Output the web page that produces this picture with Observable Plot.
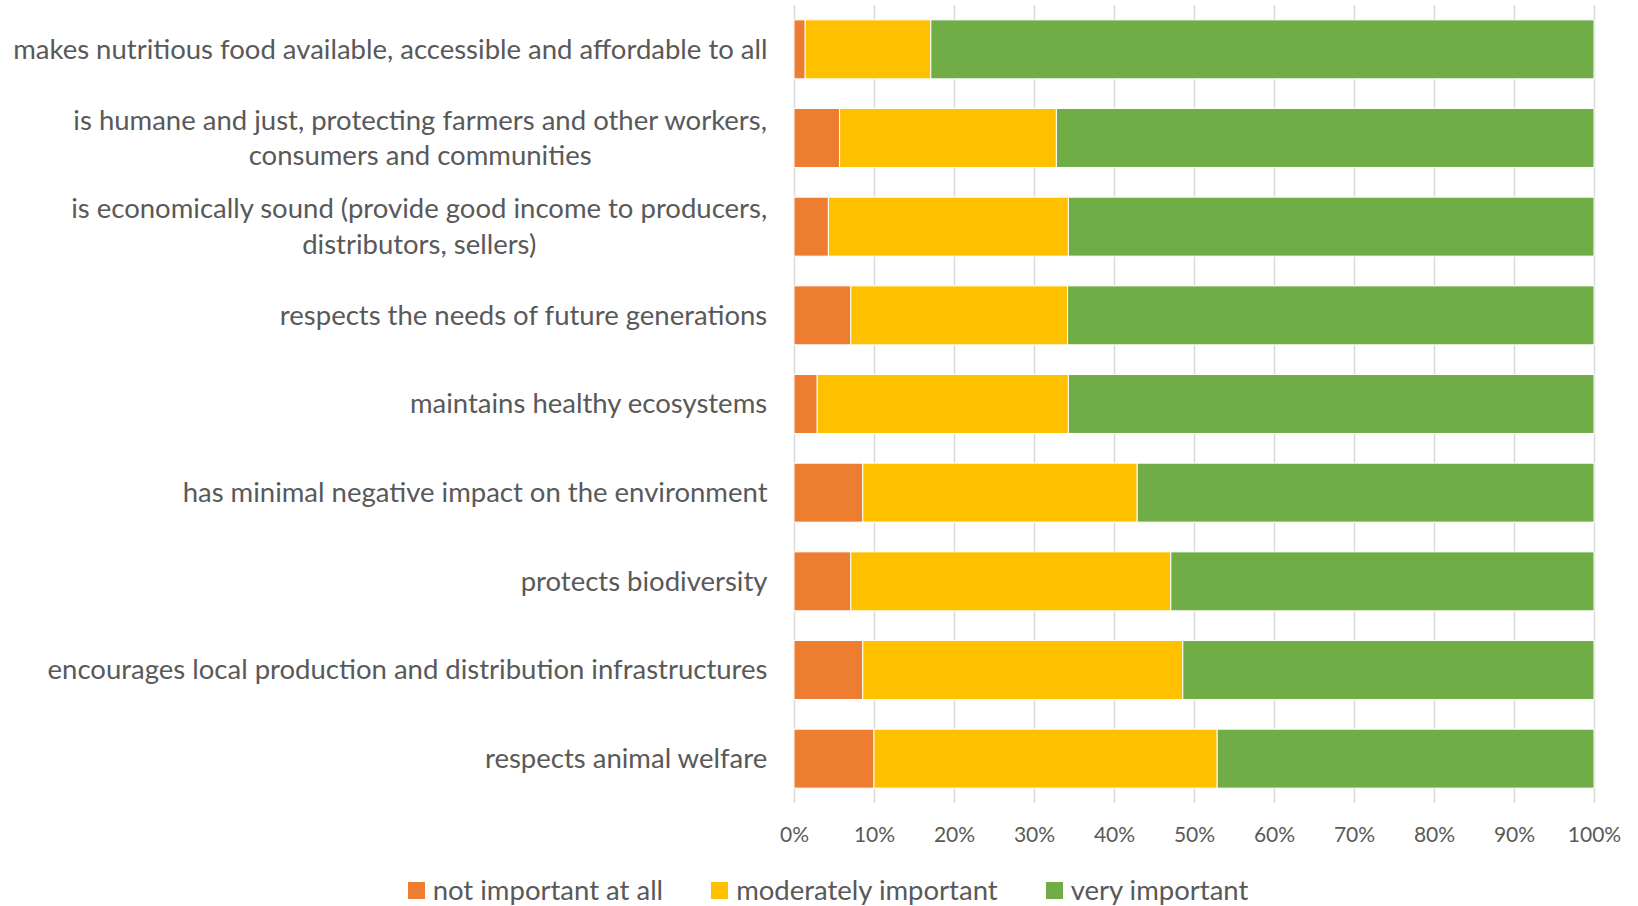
<!DOCTYPE html>
<html>
<head>
<meta charset="utf-8">
<script src="https://cdn.jsdelivr.net/npm/d3@7"></script>
<script src="https://cdn.jsdelivr.net/npm/@observablehq/plot@0.6"></script>
<style>
  body { margin: 0; background: #ffffff; font-family: Lato, "Open Sans", sans-serif; }
  #wrap { position: relative; width: 1638px; height: 906px; }
  #legend { position: absolute; left: 0; top: 875px; width: 1638px; display: flex; justify-content: center;
            padding-left: 18px; box-sizing: border-box; font-size: 27.5px; color: #595959; line-height: 30px; }
  .item { display: flex; align-items: center; margin: 0 24px; }
  .sw { width: 17px; height: 17px; margin-right: 8px; }
</style>
</head>
<body>
<div id="wrap">
  <div id="chart"></div>
  <div id="legend"></div>
</div>
<script>
const categories = [
  "makes nutritious food available, accessible and affordable to all",
  "is humane and just, protecting farmers and other workers,\nconsumers and communities",
  "is economically sound (provide good income to producers,\ndistributors, sellers)",
  "respects the needs of future generations",
  "maintains healthy ecosystems",
  "has minimal negative impact on the environment",
  "protects biodiversity",
  "encourages local production and distribution infrastructures",
  "respects animal welfare"
];
const seriesNames = ["not important at all", "moderately important", "very important"];
const seriesColors = ["#ED7D31", "#FFC000", "#70AD47"];
const notImportant = [1.4, 5.7, 4.3, 7.1, 2.9, 8.6, 7.1, 8.6, 10.0];
const moderatelyImportant = [15.7, 27.1, 30.0, 27.1, 31.4, 34.3, 40.0, 40.0, 42.9];
const veryImportant = [82.9, 67.2, 65.7, 65.8, 65.7, 57.1, 52.9, 51.4, 47.1];
const xTicks = [0, 10, 20, 30, 40, 50, 60, 70, 80, 90, 100];

const seriesValues = [notImportant, moderatelyImportant, veryImportant];
const rows = [];
categories.forEach((c, i) => {
  seriesNames.forEach((s, j) => rows.push({category: c, series: s, value: seriesValues[j][i]}));
});

const textColor = "#595959";
const labelFont = 27.5;
const ctx = document.createElement("canvas").getContext("2d");
ctx.font = `${labelFont}px Lato`;
const blockWidth = (c) => Math.max(...c.split("\n").map(l => ctx.measureText(l).width));

const labelMarks = categories.map(c =>
  Plot.text([c], {
    y: d => d,
    text: d => d,
    frameAnchor: "left",
    textAnchor: "middle",
    dx: -27 - blockWidth(c) / 2,
    dy: -2.5,
    fontSize: labelFont,
    lineHeight: 1.3,
    fill: textColor
  })
);

const chart = Plot.plot({
  width: 1638,
  height: 862,
  marginLeft: 794,
  marginRight: 44,
  marginTop: 5,
  marginBottom: 59,
  style: {fontFamily: "Lato, 'Open Sans', sans-serif", color: textColor, background: "white"},
  x: {domain: [0, 100]},
  y: {domain: categories, paddingInner: 0.335, paddingOuter: 0.1675, round: false},
  color: {domain: seriesNames, range: seriesColors},
  marks: [
    Plot.ruleX(xTicks, {stroke: "#D9D9D9", strokeWidth: 1.5}),
    Plot.barX(rows, {
      x: "value", y: "category", fill: "series",
      order: seriesNames, stroke: "white", strokeWidth: 1
    }),
    Plot.axisX({ticks: xTicks, tickSize: 0, tickPadding: 24, tickFormat: d => d + "%",
                fontSize: 21, fill: textColor, label: null}),
    Plot.axisY({ticks: [], label: null, tickSize: 0}),
    ...labelMarks
  ]
});
document.getElementById("chart").appendChild(chart);

const legend = document.getElementById("legend");
seriesNames.forEach((s, i) => {
  const item = document.createElement("div");
  item.className = "item";
  const sw = document.createElement("div");
  sw.className = "sw";
  sw.style.background = seriesColors[i];
  const t = document.createElement("span");
  t.textContent = s;
  item.appendChild(sw);
  item.appendChild(t);
  legend.appendChild(item);
});
</script>
</body>
</html>
